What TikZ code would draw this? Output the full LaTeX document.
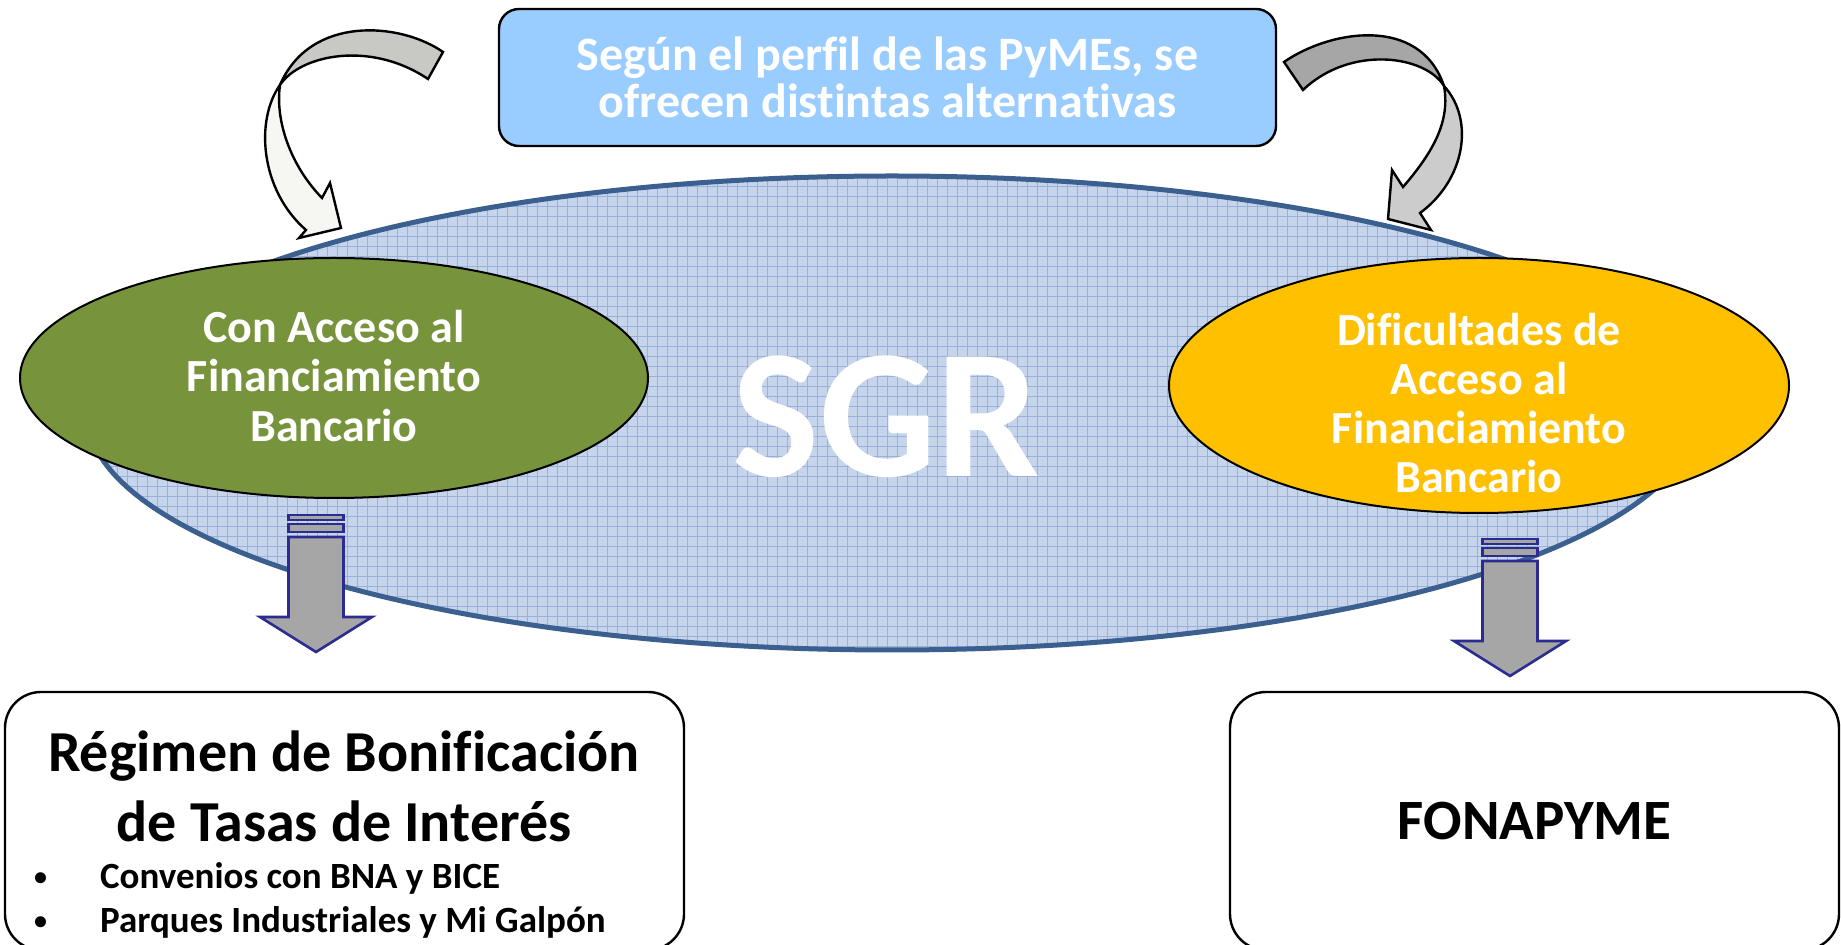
\documentclass[tikz,border=0pt]{standalone}
\usepackage{fontspec}
\setmainfont{Carlito}[Ligatures=NoCommon]
\usetikzlibrary{shapes.geometric}

\definecolor{boxblue}{RGB}{153,204,255}
\definecolor{olivegreen}{RGB}{119,147,60}
\definecolor{gold}{RGB}{255,192,0}
\definecolor{sgrfill}{RGB}{198,213,236}
\definecolor{sgrgrid}{RGB}{150,178,220}
\definecolor{sgrline}{RGB}{59,95,143}
\definecolor{arrowblue}{RGB}{43,43,145}
\definecolor{arrowgray}{RGB}{166,166,166}
\definecolor{lbendback}{RGB}{200,201,196}
\definecolor{lbendfront}{RGB}{246,246,242}
\definecolor{rbendback}{RGB}{166,166,166}
\definecolor{rbendfront}{RGB}{204,204,204}

\newcommand{\smallbullet}{\makebox[33pt][l]{\raisebox{1.5pt}{\fontsize{13}{13}\selectfont\textbullet}}}

\begin{document}
\begin{tikzpicture}[x=0.5pt,y=-0.5pt,
    every node/.style={font=\bfseries},
    bubble/.style={ellipse, draw=black, line width=1pt, inner sep=0pt},
    bubbletext/.style={text=white, align=center, font=\bfseries\fontsize{23}{24.6}\selectfont},
    infobox/.style={draw=black, line width=1.2pt, rounded corners=18pt, fill=white, inner sep=0pt},
    arrowline/.style={draw=arrowblue, fill=arrowgray, line width=1.3pt, line join=miter},
    bendline/.style={draw=black, line width=1.2pt, line join=miter},
    gridline/.style={draw=sgrgrid, line width=0.35pt},
    stripedarrow/.pic={
        \filldraw[arrowline] (-27.5,0) rectangle (27.5,5);
        \filldraw[arrowline] (-27.5,9) rectangle (27.5,17);
        \filldraw[arrowline] (-27.5,22) -- (27.5,22) -- (27.5,102) -- (56,102) -- (0,137) -- (-56,102) -- (-27.5,102) -- cycle;
    }]

    \useasboundingbox (0,0) rectangle (1841,945);
    \clip (0,0) rectangle (1841,945);

    % SGR
    \fill[sgrfill] (892,413) ellipse [x radius=805, y radius=237];
    \begin{scope}
        \clip (892,413) ellipse [x radius=805, y radius=237];
        \foreach \gx in {87,97,...,1700} \draw[gridline] (\gx,170) -- (\gx,656);
        \foreach \gy in {176,186,...,656} \draw[gridline] (87,\gy) -- (1700,\gy);
    \end{scope}
    \draw[sgrline, line width=2.5pt] (892,413) ellipse [x radius=805, y radius=237];
    \node[text=white, font=\bfseries\fontsize{92}{92}\selectfont] (sgr) at (886,417) {SGR};

    \pic (larrow) at (316,515) {stripedarrow};
    \pic (rarrow) at (1510,539) {stripedarrow};

    \node[bubble, fill=olivegreen, minimum width=314pt, minimum height=120pt] (acceso) at (334,378) {};
    \node[bubbletext] (accesotxt) at (334,376) {Con Acceso al\\Financiamiento\\Bancario};

    \node[bubble, fill=gold, minimum width=310pt, minimum height=127.5pt] (dific) at (1479,385.5) {};
    \node[bubbletext] (dificTxt) at (1479,403) {Dificultades de\\Acceso al\\Financiamiento\\Bancario};

    % curved arrows
    \filldraw[bendline, fill=lbendback] (443,52) .. controls (400,22) and (310,15) .. (280,85) .. controls (300,55) and (370,40) .. (428,79) -- cycle;
    \filldraw[bendline, fill=lbendfront] (280,85) .. controls (255,120) and (260,190) .. (306,230) -- (299,238) -- (341,228) -- (330,183) -- (322,198) .. controls (290,165) and (275,120) .. (280,85) -- cycle;

    \filldraw[bendline, fill=rbendback] (1284,62) .. controls (1330,30) and (1420,15) .. (1444,86) .. controls (1425,55) and (1350,45) .. (1303,90) -- cycle;
    \filldraw[bendline, fill=rbendfront] (1444,86) .. controls (1475,120) and (1465,180) .. (1420,213) -- (1431,230) -- (1388,219) -- (1392,170) -- (1403,187) .. controls (1435,150) and (1450,120) .. (1444,86) -- cycle;

    \node[draw=black, line width=1.2pt, fill=boxblue, rounded corners=10pt, minimum width=388.5pt, minimum height=68.5pt,
          text=white, align=center, font=\bfseries\fontsize{24}{23.5}\selectfont] (perfil) at (887.5,77.5)
          {Según el perfil de las PyMEs, se\\ofrecen distintas alternativas};

    \node[infobox, minimum width=339.5pt, minimum height=129pt] (regimen) at (344.5,821) {};
    \node[align=center, font=\bfseries\fontsize{29}{35}\selectfont] (regimentxt) at (344,786) {Régimen de Bonificación\\de Tasas de Interés};
    \node[anchor=west, align=left, font=\bfseries\fontsize{18.5}{22}\selectfont] (convenios) at (27,900)
          {\smallbullet Convenios con BNA y BICE\\\smallbullet Parques Industriales y Mi Galpón};

    \node[infobox, minimum width=304.5pt, minimum height=129pt, font=\bfseries\fontsize{28.5}{34}\selectfont] (fonapyme) at (1534.5,821) {FONAPYME};

\end{tikzpicture}
\end{document}
